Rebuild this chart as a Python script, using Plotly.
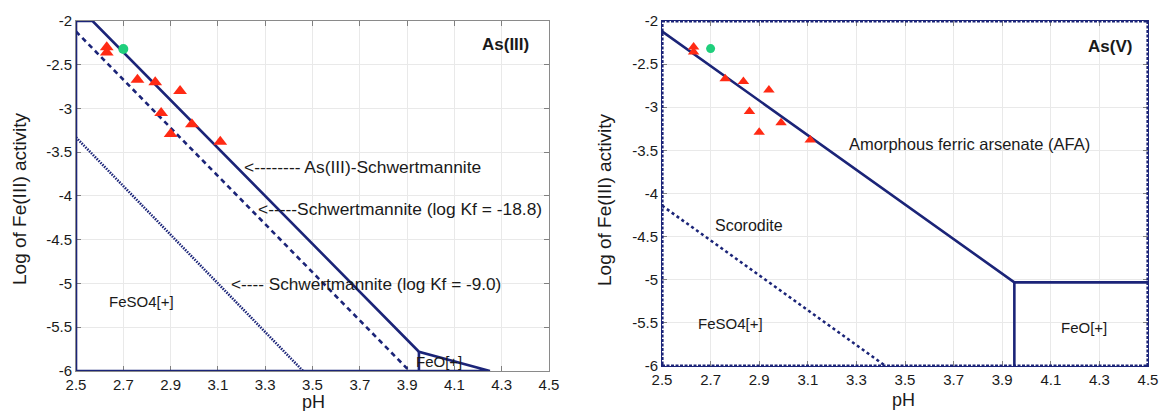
import plotly.graph_objects as go

# ---------------- data ----------------
ph_ticks = [2.5, 2.7, 2.9, 3.1, 3.3, 3.5, 3.7, 3.9, 4.1, 4.3, 4.5]
ph_tick_labels = ["2.5", "2.7", "2.9", "3.1", "3.3", "3.5", "3.7", "3.9", "4.1", "4.3", "4.5"]
fe_ticks = [-6, -5.5, -5, -4.5, -4, -3.5, -3, -2.5, -2]
fe_tick_labels = ["-6", "-5.5", "-5", "-4.5", "-4", "-3.5", "-3", "-2.5", "-2"]

# observed samples (red triangles) and green sample
obs_ph = [2.63, 2.63, 2.76, 2.835, 2.94, 2.86, 2.99, 2.90, 3.11]
obs_logfe = [-2.30, -2.36, -2.67, -2.70, -2.80, -3.05, -3.18, -3.29, -3.38]
green_ph = [2.70]
green_logfe = [-2.32]

# As(III) panel boundaries
as3_field_ph = [2.5, 2.5, 2.57, 3.95, 4.25, 2.5]
as3_field_logfe = [-6, -2, -2, -5.78, -6, -6]
as3_feo_ph = [3.95, 3.95]
as3_feo_logfe = [-5.78, -6]
schw188_ph = [2.5, 3.91]
schw188_logfe = [-2.12, -6]
schw90_ph = [2.5, 3.46]
schw90_logfe = [-3.33, -6]

# As(V) panel boundaries
afa_ph = [2.5, 3.95, 4.5]
afa_logfe = [-2.12, -5.03, -5.03]
feo_v_ph = [3.95, 3.95]
feo_v_logfe = [-5.03, -6]
scorodite_ph = [2.5, 3.42]
scorodite_logfe = [-4.14, -6]
frame_ph = [2.5, 4.5, 4.5, 2.5, 2.5]
frame_logfe = [-2, -2, -6, -6, -2]

# ---------------- styling ----------------
NAVY = "#1b2478"
RED = "#ff2a14"
GREEN = "#1fcf7c"
FONT = "Liberation Sans"
TXT = "#1a1a1a"

fig = go.Figure()

def line(x, y, xa, ya, dash="solid", width=2.6, color=NAVY):
    fig.add_trace(go.Scatter(x=x, y=y, xaxis=xa, yaxis=ya, mode="lines",
                             line=dict(color=color, width=width, dash=dash),
                             cliponaxis=False, showlegend=False, hoverinfo="skip"))

# left panel
line(as3_field_ph, as3_field_logfe, "x", "y")
line(as3_feo_ph, as3_feo_logfe, "x", "y")
line(schw188_ph, schw188_logfe, "x", "y", dash="5px,4px")
line(schw90_ph, schw90_logfe, "x", "y", dash="1.5px,1.2px")
fig.add_trace(go.Scatter(x=obs_ph, y=obs_logfe, xaxis="x", yaxis="y", mode="markers",
                         marker=dict(symbol="triangle-up", size=12, color=RED),
                         cliponaxis=False, showlegend=False))
fig.add_trace(go.Scatter(x=green_ph, y=green_logfe, xaxis="x", yaxis="y", mode="markers",
                         marker=dict(symbol="circle", size=10, color=GREEN),
                         cliponaxis=False, showlegend=False))

# right panel
line(frame_ph, frame_logfe, "x2", "y2", dash="3px,1.5px", width=3.2)
line(afa_ph, afa_logfe, "x2", "y2")
line(feo_v_ph, feo_v_logfe, "x2", "y2")
line(scorodite_ph, scorodite_logfe, "x2", "y2", dash="3px,3px")
fig.add_trace(go.Scatter(x=obs_ph, y=obs_logfe, xaxis="x2", yaxis="y2", mode="markers",
                         marker=dict(symbol="triangle-up", size=10, color=RED),
                         cliponaxis=False, showlegend=False))
fig.add_trace(go.Scatter(x=green_ph, y=green_logfe, xaxis="x2", yaxis="y2", mode="markers",
                         marker=dict(symbol="circle", size=9, color=GREEN),
                         cliponaxis=False, showlegend=False))

axis_common = dict(
    showgrid=True, gridcolor="#e9e9e9", gridwidth=1,
    showline=True, linewidth=1, mirror="ticks",
    ticks="inside", ticklen=5, tickcolor="#808080",
    zeroline=False, layer="below traces",
    tickfont=dict(family=FONT, size=15, color=TXT),
    tickmode="array", fixedrange=True, automargin=False,
)

fig.update_layout(
    width=1160, height=411,
    margin=dict(l=0, r=0, t=0, b=0, pad=0, autoexpand=False),
    paper_bgcolor="white", plot_bgcolor="white",
    showlegend=False,
    xaxis=dict(axis_common, domain=[0.06552, 0.47328], range=[2.5, 4.5],
               tickvals=ph_ticks, ticktext=ph_tick_labels, anchor="y", linecolor="#8a8a8a"),
    yaxis=dict(axis_common, domain=[0.09732, 0.94891], range=[-6, -2],
               tickvals=fe_ticks, ticktext=fe_tick_labels, anchor="x", linecolor="#8a8a8a"),
    xaxis2=dict(axis_common, domain=[0.57069, 0.98966], range=[2.5, 4.5],
                tickvals=ph_ticks, ticktext=ph_tick_labels, anchor="y2", linecolor=NAVY),
    yaxis2=dict(axis_common, domain=[0.10949, 0.94891], range=[-6, -2],
                tickvals=fe_ticks, ticktext=fe_tick_labels, anchor="x2", linecolor=NAVY),
)

ann = []
def text(x, y, s, xref, yref, size=16, bold=False, xanchor="center", angle=0):
    ann.append(dict(x=x, y=y, xref=xref, yref=yref, text=("<b>%s</b>" % s) if bold else s,
                    showarrow=False, xanchor=xanchor, yanchor="middle", textangle=angle,
                    font=dict(family=FONT, size=size, color=TXT)))

# left panel texts
text(4.314, -2.27, "As(III)", "x", "y", size=17, bold=True)
text(3.20, -3.674, "&lt;-------- As(III)-Schwertmannite", "x", "y", size=17.4, xanchor="left")
text(3.26, -4.154, "&lt;-----Schwertmannite (log Kf = -18.8)", "x", "y", size=17.4, xanchor="left")
text(3.145, -5.01, "&lt;---- Schwertmannite (log Kf = -9.0)", "x", "y", size=17.2, xanchor="left")
text(2.779, -5.21, "FeSO4[+]", "x", "y", size=15)
text(4.033, -5.886, "FeO[+]", "x", "y", size=15)

# right panel texts
text(4.344, -2.29, "As(V)", "x2", "y2", size=17, bold=True)
text(3.26, -3.43, "Amorphous ferric arsenate (AFA)", "x2", "y2", size=16.5, xanchor="left")
text(2.858, -4.37, "Scorodite", "x2", "y2", size=16)
text(2.782, -5.505, "FeSO4[+]", "x2", "y2", size=15)
text(4.237, -5.55, "FeO[+]", "x2", "y2", size=15)

# axis titles
text(20 / 1160, 1 - 199 / 411, "Log of Fe(III) activity", "paper", "paper", size=19, angle=-90)
text(313 / 1160, 1 - 402 / 411, "pH", "paper", "paper", size=18)
text(604 / 1160, 1 - 200 / 411, "Log of Fe(III) activity", "paper", "paper", size=19, angle=-90)
text(903 / 1160, 1 - 400 / 411, "pH", "paper", "paper", size=18)

fig.update_layout(annotations=ann)

fig.write_html("out.html",
               post_script="document.body.style.margin='0';"
                           "document.documentElement.style.overflow='hidden';")
